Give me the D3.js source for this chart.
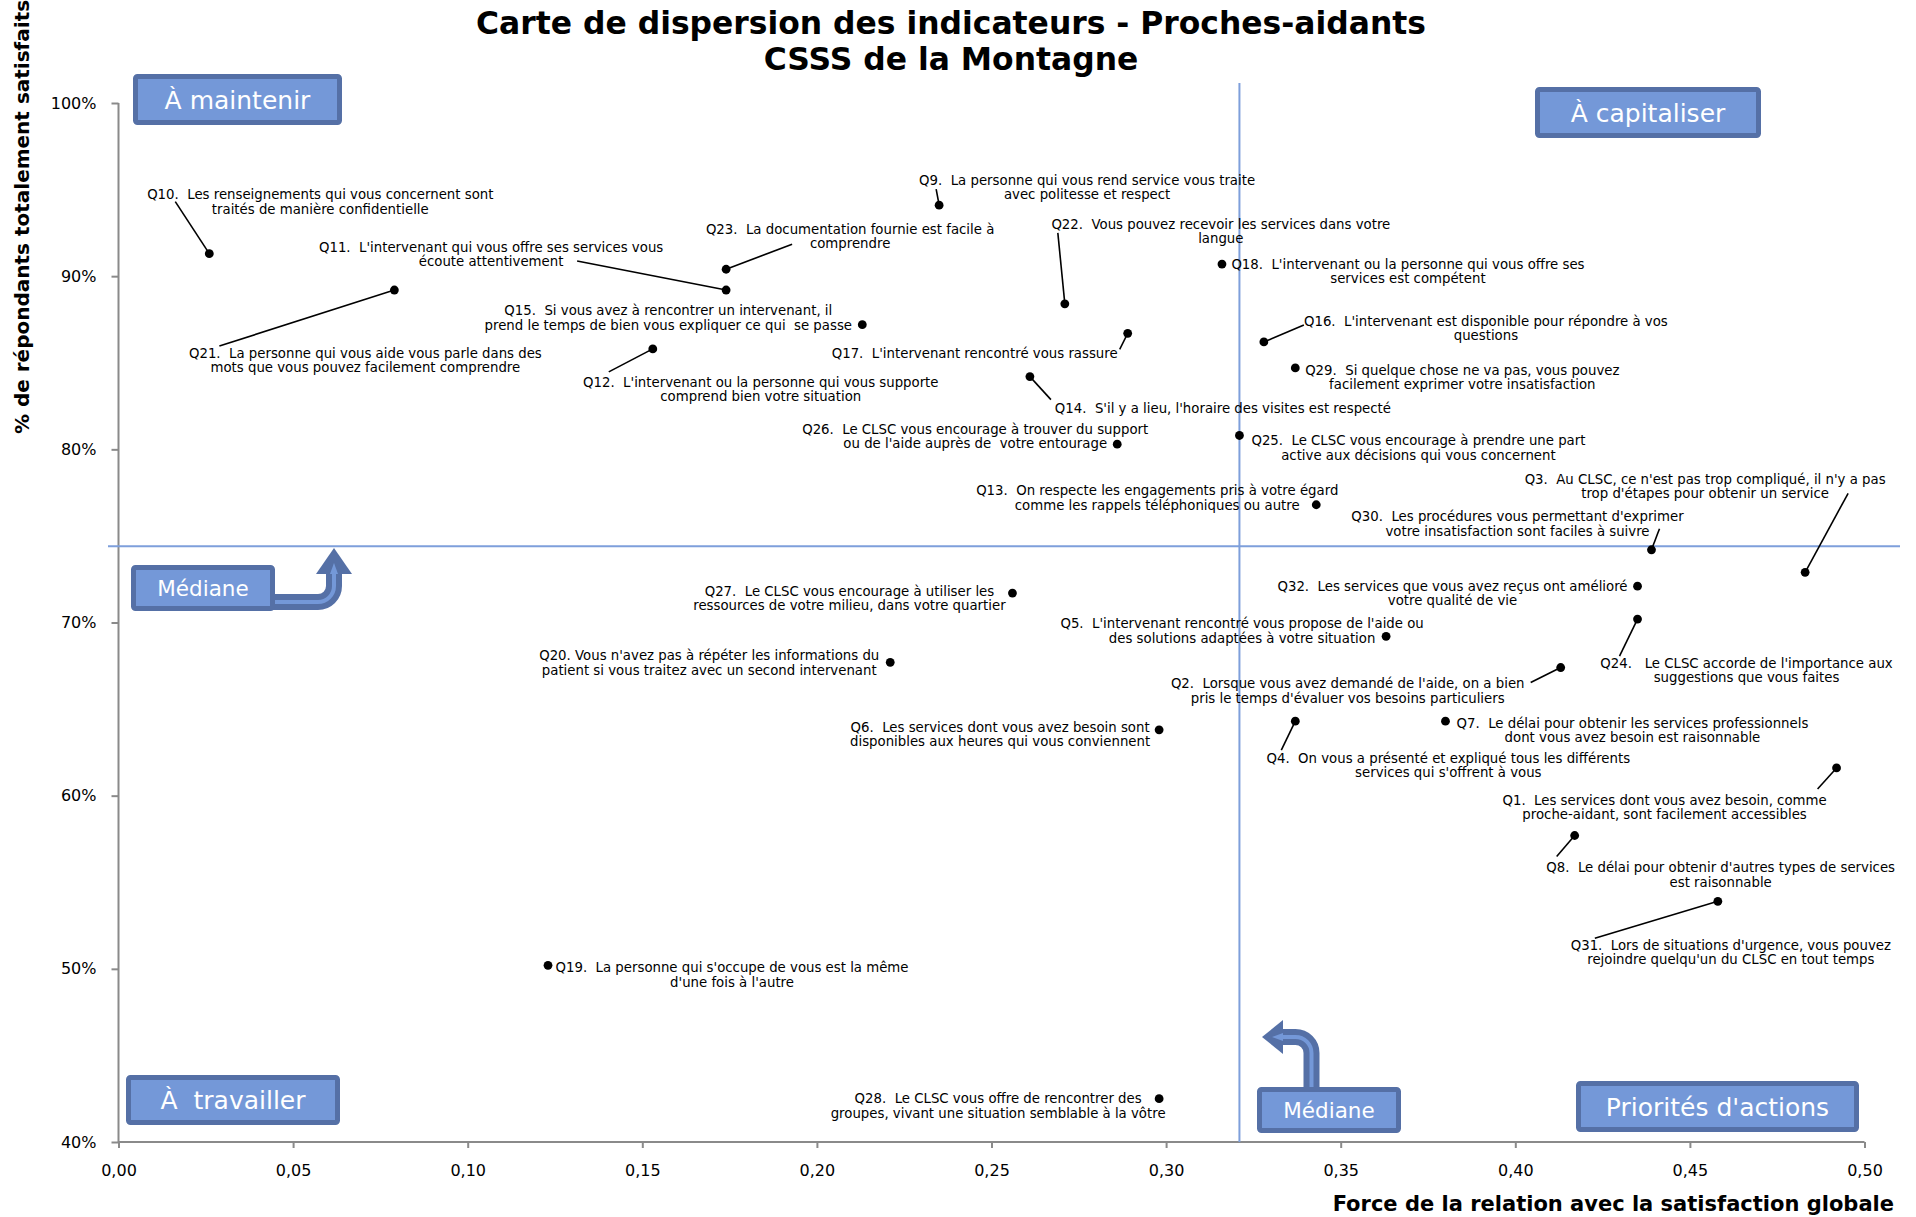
<!DOCTYPE html>
<html lang="fr">
<head>
<meta charset="utf-8">
<title>Carte de dispersion des indicateurs - Proches-aidants</title>
<script src="https://cdn.jsdelivr.net/npm/d3@7"></script>
<style>
    body { margin: 0; background: #fff; }
    svg text { font-family: "DejaVu Sans", Verdana, sans-serif; }
    .titre { font-size: 31.4px; font-weight: bold; fill: #000; }
    .axe-titre { font-size: 20px; font-weight: bold; fill: #000; }
    .lbl { font-size: 13.3px; fill: #000; }
    .tick text { font-size: 16px; fill: #000; font-family: "DejaVu Sans", Verdana, sans-serif; }
    .tick line, .domain { stroke: #8a8a8a; stroke-width: 2px; }
    .boite-texte { fill: #fff; }
</style>
</head>
<body>
<div class="module-graph"></div>
<script>
"use strict"

// données
const questions = ["Q1", "Q2", "Q3", "Q4", "Q5", "Q6", "Q7", "Q8", "Q9", "Q10",
    "Q11", "Q12", "Q13", "Q14", "Q15", "Q16", "Q17", "Q18", "Q19", "Q20",
    "Q21", "Q22", "Q23", "Q24", "Q25", "Q26", "Q27", "Q28", "Q29", "Q30", "Q31", "Q32"];

// force de la relation avec la satisfaction globale
const force = [0.492, 0.413, 0.483, 0.337, 0.363, 0.298, 0.380, 0.417, 0.235, 0.026,
    0.174, 0.153, 0.343, 0.261, 0.213, 0.328, 0.289, 0.316, 0.123, 0.221,
    0.079, 0.271, 0.174, 0.435, 0.321, 0.286, 0.256, 0.298, 0.337, 0.439, 0.458, 0.435];

// % de répondants totalement satisfaits
const satisfaits = [0.616, 0.674, 0.729, 0.643, 0.692, 0.638, 0.643, 0.577, 0.941, 0.913,
    0.892, 0.858, 0.768, 0.842, 0.872, 0.862, 0.867, 0.907, 0.502, 0.677,
    0.892, 0.884, 0.904, 0.702, 0.808, 0.803, 0.717, 0.425, 0.847, 0.742, 0.539, 0.721];

const libelles = [
    ["Q1.  Les services dont vous avez besoin, comme", "proche-aidant, sont facilement accessibles"],
    ["Q2.  Lorsque vous avez demandé de l'aide, on a bien", "pris le temps d'évaluer vos besoins particuliers"],
    ["Q3.  Au CLSC, ce n'est pas trop compliqué, il n'y a pas", "trop d'étapes pour obtenir un service"],
    ["Q4.  On vous a présenté et expliqué tous les différents", "services qui s'offrent à vous"],
    ["Q5.  L'intervenant rencontré vous propose de l'aide ou", "des solutions adaptées à votre situation"],
    ["Q6.  Les services dont vous avez besoin sont", "disponibles aux heures qui vous conviennent"],
    ["Q7.  Le délai pour obtenir les services professionnels", "dont vous avez besoin est raisonnable"],
    ["Q8.  Le délai pour obtenir d'autres types de services", "est raisonnable"],
    ["Q9.  La personne qui vous rend service vous traite", "avec politesse et respect"],
    ["Q10.  Les renseignements qui vous concernent sont", "traités de manière confidentielle"],
    ["Q11.  L'intervenant qui vous offre ses services vous", "écoute attentivement"],
    ["Q12.  L'intervenant ou la personne qui vous supporte", "comprend bien votre situation"],
    ["Q13.  On respecte les engagements pris à votre égard", "comme les rappels téléphoniques ou autre"],
    ["Q14.  S'il y a lieu, l'horaire des visites est respecté"],
    ["Q15.  Si vous avez à rencontrer un intervenant, il", "prend le temps de bien vous expliquer ce qui  se passe"],
    ["Q16.  L'intervenant est disponible pour répondre à vos", "questions"],
    ["Q17.  L'intervenant rencontré vous rassure"],
    ["Q18.  L'intervenant ou la personne qui vous offre ses", "services est compétent"],
    ["Q19.  La personne qui s'occupe de vous est la même", "d'une fois à l'autre"],
    ["Q20. Vous n'avez pas à répéter les informations du", "patient si vous traitez avec un second intervenant"],
    ["Q21.  La personne qui vous aide vous parle dans des", "mots que vous pouvez facilement comprendre"],
    ["Q22.  Vous pouvez recevoir les services dans votre", "langue"],
    ["Q23.  La documentation fournie est facile à", "comprendre"],
    ["Q24.   Le CLSC accorde de l'importance aux", "suggestions que vous faites"],
    ["Q25.  Le CLSC vous encourage à prendre une part", "active aux décisions qui vous concernent"],
    ["Q26.  Le CLSC vous encourage à trouver du support", "ou de l'aide auprès de  votre entourage"],
    ["Q27.  Le CLSC vous encourage à utiliser les", "ressources de votre milieu, dans votre quartier"],
    ["Q28.  Le CLSC vous offre de rencontrer des", "groupes, vivant une situation semblable à la vôtre"],
    ["Q29.  Si quelque chose ne va pas, vous pouvez", "facilement exprimer votre insatisfaction"],
    ["Q30.  Les procédures vous permettant d'exprimer", "votre insatisfaction sont faciles à suivre"],
    ["Q31.  Lors de situations d'urgence, vous pouvez", "rejoindre quelqu'un du CLSC en tout temps"],
    ["Q32.  Les services que vous avez reçus ont amélioré", "votre qualité de vie"]
];

const xTicks = [0, 0.05, 0.10, 0.15, 0.20, 0.25, 0.30, 0.35, 0.40, 0.45, 0.50];
const yTicks = [0.4, 0.5, 0.6, 0.7, 0.8, 0.9, 1.0];
const medianeX = 0.321;
const medianeY = 0.744;

// mise en page des étiquettes : décalage du centre du texte et bout du trait de rappel (px, par rapport au point)
const decalages = [
    [-172, 32, -19, 21], [-213, 16, -30, 15], [-100, -93, 43, -79], [153, 37, -14, 29],
    [-144, -13], [-159, -3], [187, 2], [146, 32, -18, 21],
    [148, -25, -3, -16], [111, -59, -34, -52], [-235, -43, -149, -29], [108, 33, -44, 23],
    [-159, -14], [193, 32, 21, 23], [-194, -14], [222, -21, 40, -17],
    [-153, 20, -8, 16], [186, 0], [184, 2], [-181, -7],
    [-29, 63, -175, 56], [156, -80, -7, -71], [124, -40, 66, -25], [109, 44, -18, 37],
    [179, 5], [-142, -15], [-163, -2], [-161, 0],
    [167, 2], [-134, -33, 8, -21], [13, 44, -123, 37], [-185, 0]
];

let width = 1916,
    height = 1217;
const gauche = 118.5, droite = 1864.5, haut = 103, bas = 1142;
const lineH = 14.5;

const svg = d3.select("div.module-graph").append("svg")
    .attr("width", width)
    .attr("height", height);

const scaleX = d3.scaleLinear().domain([0, 0.5]).range([gauche, droite]);
const scaleY = d3.scaleLinear().domain([0.4, 1.0]).range([bas, haut]);

const frLocale = d3.formatLocale({decimal: ",", thousands: " ", grouping: [3], currency: ["", " $"]});

// axes
const xAxis = d3.axisBottom(scaleX).tickValues(xTicks).tickSize(6).tickPadding(17)
    .tickFormat(frLocale.format(".2f"));
const yAxis = d3.axisLeft(scaleY).tickValues(yTicks).tickSize(7).tickPadding(15)
    .tickFormat(d3.format(".0%"));

svg.append("g")
    .attr("class", "x-axis")
    .attr("transform", "translate(0," + bas + ")")
    .call(xAxis)
    .call(g => g.select(".domain").attr("d", "M" + gauche + ",0H" + droite));

svg.append("g")
    .attr("class", "y-axis")
    .attr("transform", "translate(" + gauche + ",0)")
    .call(yAxis)
    .call(g => g.select(".domain").attr("d", "M0," + haut + "V" + bas));

// médianes
svg.append("line")
    .attr("x1", 108).attr("x2", 1900)
    .attr("y1", scaleY(medianeY)).attr("y2", scaleY(medianeY))
    .attr("stroke", "#7e9fdb").attr("stroke-width", 2);
svg.append("line")
    .attr("x1", scaleX(medianeX)).attr("x2", scaleX(medianeX))
    .attr("y1", 83).attr("y2", bas)
    .attr("stroke", "#7e9fdb").attr("stroke-width", 2);

// titres
const titre = svg.append("text").attr("class", "titre").attr("text-anchor", "middle");
titre.append("tspan").attr("x", 951).attr("y", 34).text("Carte de dispersion des indicateurs - Proches-aidants");
titre.append("tspan").attr("x", 951).attr("y", 70).text("CSSS de la Montagne");

svg.append("text")
    .attr("class", "axe-titre")
    .attr("text-anchor", "middle")
    .attr("transform", "translate(29,217) rotate(-90)")
    .text("% de répondants totalement satisfaits");

svg.append("text")
    .attr("class", "axe-titre")
    .attr("text-anchor", "end")
    .attr("x", 1894).attr("y", 1211)
    .style("font-size", "21px")
    .text("Force de la relation avec la satisfaction globale");

// points
const points = questions.map((q, i) => ({
    q: q,
    x: scaleX(force[i]),
    y: scaleY(satisfaits[i]),
    lignes: libelles[i],
    d: decalages[i]
}));

svg.append("g").selectAll("line")
    .data(points.filter(p => p.d.length > 2))
    .join("line")
    .attr("x1", p => p.x).attr("y1", p => p.y)
    .attr("x2", p => p.x + p.d[2]).attr("y2", p => p.y + p.d[3])
    .attr("stroke", "#000").attr("stroke-width", 1.6);

svg.append("g").selectAll("circle")
    .data(points)
    .join("circle")
    .attr("cx", p => p.x).attr("cy", p => p.y)
    .attr("r", 4.4)
    .attr("fill", "#000");

const etiquettes = svg.append("g").selectAll("text")
    .data(points)
    .join("text")
    .attr("class", "lbl")
    .attr("text-anchor", "middle");
etiquettes.each(function (p) {
    const t = d3.select(this);
    p.lignes.forEach((l, k) => {
        t.append("tspan")
            .attr("x", p.x + p.d[0])
            .attr("y", p.y + p.d[1] + 4.7 + k * lineH)
            .attr("xml:space", "preserve")
            .text(l);
    });
});

// encadrés des quadrants
const fond = "#7498d8", bord = "#5570a6";
function boite(x, y, w, h, texte, taille) {
    svg.append("rect")
        .attr("x", x + 2.5).attr("y", y + 2.5)
        .attr("width", w - 5).attr("height", h - 5)
        .attr("rx", 2)
        .attr("fill", fond).attr("stroke", bord).attr("stroke-width", 5);
    svg.append("text")
        .attr("class", "boite-texte")
        .attr("x", x + w / 2).attr("y", y + h / 2 + taille * 0.36)
        .attr("text-anchor", "middle")
        .attr("xml:space", "preserve")
        .style("font-size", taille + "px")
        .text(texte);
}

boite(133, 74, 209, 51, "À maintenir", 25);
boite(1535, 87, 226, 51, "À capitaliser", 25);
boite(126, 1075, 214, 50, "À  travailler", 25);
boite(1576, 1081, 283, 51, "Priorités d'actions", 25);

// flèches vers les médianes
function fleche(chemin, tete, pointe) {
    svg.append("path").attr("d", chemin)
        .attr("fill", "none").attr("stroke", bord).attr("stroke-width", 16);
    svg.append("polygon").attr("points", tete).attr("fill", bord);
    svg.append("path").attr("d", chemin)
        .attr("fill", "none").attr("stroke", fond).attr("stroke-width", 4);
    svg.append("polygon").attr("points", pointe).attr("fill", fond);
}

fleche("M272,602H318A16,16 0 0 0 334,586V572",
    "316,574 352,574 334,548", "330,574 338,574 334,563");
fleche("M1311.5,1089V1053A16,16 0 0 0 1295.5,1037H1281",
    "1283,1020 1283,1054 1262,1037", "1283,1033 1283,1041 1272,1037");

boite(131, 565, 144, 46, "Médiane", 21.5);
boite(1257, 1087, 144, 46, "Médiane", 21.5);
</script>
</body>
</html>
